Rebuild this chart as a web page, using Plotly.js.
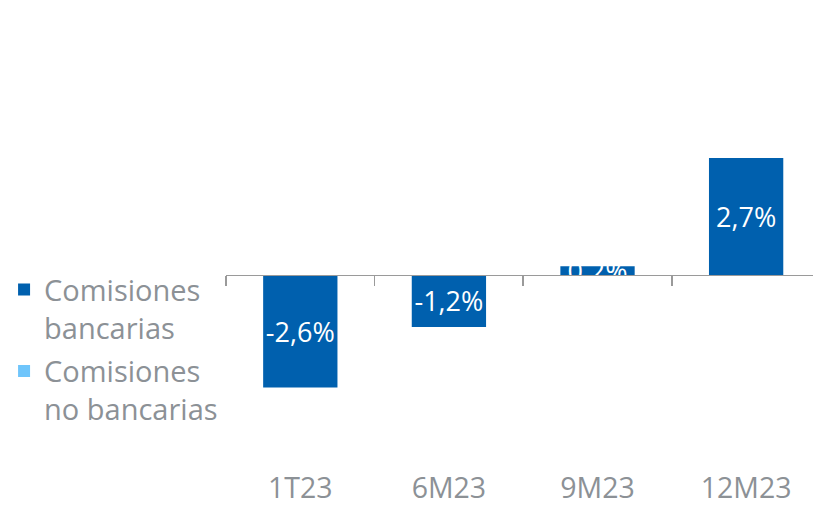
<!DOCTYPE html>
<html>
<head>
<meta charset="utf-8">
<script src="https://cdn.plot.ly/plotly-3.0.1.min.js"></script>
<style>html,body{margin:0;padding:0;background:#fff;overflow:hidden}#chart{width:813px;height:506px}</style>
</head>
<body>
<div id="chart"></div>
<script>
var categories = ["1T23", "6M23", "9M23", "12M23"];
var bancarias = [-2.6, -1.2, 0.2, 2.7];
var noBancarias = [null, null, null, null];
var seriesNames = ["Comisiones<br>bancarias", "Comisiones<br>no bancarias"];

function fmt(v) { return v.toFixed(1).replace('.', ',') + '%'; }

var FONT = "Open Sans";
var GREY = "#8c9196";
var ymin = -3.95, ymax = 6.12;

var traces = [
  {
    type: 'bar', x: categories, y: bancarias, name: seriesNames[0], legendgroup: 'a',
    marker: {color: '#0060ae'}, width: 0.5,
    text: bancarias.map(fmt), textposition: 'inside', insidetextanchor: 'middle',
    constraintext: 'none', textangle: 0,
    textfont: {family: FONT, size: 27, color: '#ffffff'},
    cliponaxis: false, hoverinfo: 'skip'
  },
  {
    type: 'bar', x: categories, y: noBancarias, name: seriesNames[1], legendgroup: 'b',
    marker: {color: '#6fc5fb'}, width: 0.5, hoverinfo: 'skip'
  }
];

var layout = {
  width: 813, height: 506,
  margin: {l: 226, r: 0, t: 10, b: 60},
  paper_bgcolor: '#ffffff', plot_bgcolor: '#ffffff',
  barmode: 'overlay',
  font: {family: FONT, color: GREY},
  showlegend: true,
  legend: {
    xref: 'container', yref: 'container', x: 0.005, y: 0.478,
    xanchor: 'left', yanchor: 'top', valign: 'top',
    font: {family: FONT, size: 29, color: GREY},
    itemwidth: 30, tracegroupgap: 3, bgcolor: 'rgba(0,0,0,0)'
  },
  xaxis: {
    type: 'category', range: [-0.5, 3.45],
    anchor: 'free', position: (0 - ymin) / (ymax - ymin),
    showline: true, linecolor: '#9a9a9a', linewidth: 1.5,
    ticks: 'outside', tickson: 'boundaries', ticklen: 10, tickcolor: '#9a9a9a', tickwidth: 1.5,
    ticklabelstandoff: 187,
    tickfont: {family: FONT, size: 28.5, color: GREY},
    showgrid: false, zeroline: false, fixedrange: true
  },
  yaxis: {
    range: [ymin, ymax], visible: false, showgrid: false, zeroline: false, fixedrange: true
  }
};

Plotly.newPlot('chart', traces, layout, {displayModeBar: false, staticPlot: true});
</script>
</body>
</html>
